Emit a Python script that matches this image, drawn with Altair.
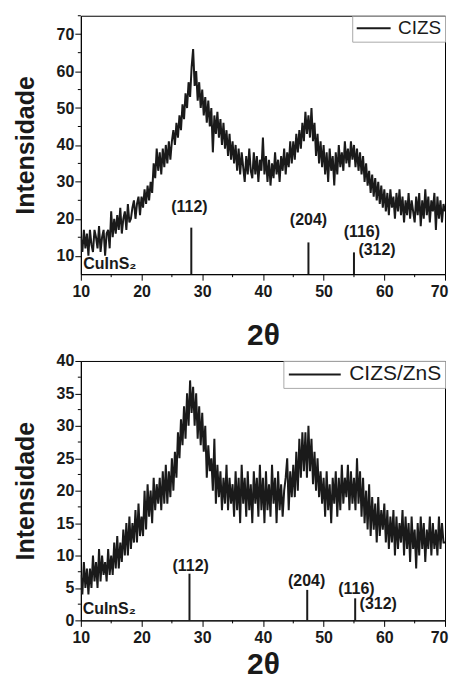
import altair as alt
import pandas as pd

# 2-theta sampling grid (degrees), 0.25 deg steps from 10 to 70
theta = [10 + 0.25 * i for i in range(241)]

# CIZS intensities (rows of 5 degrees)
cizs = (
    [15,11,17,12,16,10,17,13,11,17,15,12,18,11,15,17,10,16,17,12] +
    [22,15,20,16,21,17,23,16,20,22,17,24,19,20,23,25,20,24,26,21] +
    [26,23,28,24,29,25,30,27,35,31,39,33,38,32,39,34,40,35,41,36] +
    [41,44,40,46,42,48,44,51,47,54,50,57,53,61,66,56,60,52,57,50] +
    [55,48,53,46,52,45,50,38,48,43,49,42,47,40,46,39,44,37,43,36] +
    [41,35,40,33,39,32,38,34,30,37,32,39,33,31,38,32,37,30,36,33] +
    [42,32,37,30,36,29,35,31,38,32,36,30,37,33,39,32,38,34,41,35] +
    [41,36,43,38,44,39,46,41,49,43,48,42,50,41,46,37,43,35,41,34] +
    [40,32,38,30,39,33,37,29,38,32,40,34,38,33,41,35,39,34,41,36] +
    [40,34,39,33,38,32,37,30,35,29,33,27,32,26,31,25,30,24,29,23] +
    [28,22,27,21,28,23,26,20,27,22,28,21,26,19,25,21,27,20,25,22] +
    [19,26,21,27,18,25,20,28,21,26,19,25,22,27,17,26,20,25,19,24] +
    [22]
)

# CIZS/ZnS intensities
cizs_zns = (
    [7,4,9,5,8,4,8,5,10,6,9,5,11,6,10,7,9,6,11,7] +
    [10,7,12,8,13,8,12,9,14,10,15,10,16,11,15,12,17,12,18,13] +
    [16,13,20,14,21,16,20,15,22,17,21,18,22,17,23,18,24,18,23,19] +
    [25,20,26,22,29,25,31,27,33,28,35,30,37,32,36,30,35,28,33,27] +
    [32,26,30,22,27,23,25,20,28,18,24,19,23,17,22,18,24,17,22,18] +
    [21,16,23,17,22,15,24,18,22,16,23,17,21,15,23,18,22,16,24,17] +
    [22,15,23,17,21,16,24,18,22,15,23,17,21,16,20,22,25,17,23,19] +
    [24,19,26,20,28,22,29,23,29,22,30,23,28,21,26,20,25,19,23,18] +
    [22,16,23,17,21,15,22,18,23,16,22,17,24,18,22,19,24,17,23,18] +
    [22,17,25,18,23,16,22,15,20,14,21,13,19,14,18,12,19,13,17,14] +
    [18,12,17,11,16,12,17,10,16,11,15,12,17,10,16,11,15,9,16,11] +
    [14,8,15,10,16,11,15,9,14,11,16,10,15,11,14,10,16,11,15,12] +
    [12]
)

# CuInS2 reference reflections
ref_pos_top = [28.2, 47.5, 55.0]
ref_h_top = [17.6, 13.6, 10.9]
ref_pos_bot = [27.9, 47.3, 55.2]
ref_h_bot = [7.2, 4.7, 3.4]

lab_text = ["(112)", "(204)", "(116)", "(312)", "CuInS₂"]
lab_x_top = [27.9, 47.5, 56.3, 58.8, 10.4]
lab_y_top = [23.2, 19.7, 16.5, 11.6, 7.8]
lab_x_bot = [28.1, 47.2, 55.4, 59.0, 10.3]
lab_y_bot = [8.4, 6.0, 4.9, 2.6, 1.8]

x_major = [10, 20, 30, 40, 50, 60, 70]
x_minor = [15, 25, 35, 45, 55, 65]

FONT = "Liberation Sans"
INK = "#1a1a1a"
W = 365


def panel(series_name, values, ydom, ymajor, yminor, rpos, rh, lx, ly, h,
          sym_path, lab_off, leg_font, xtp):
    df = pd.DataFrame({"t": theta, "v": values, "s": series_name})
    xs = alt.Scale(domain=[10, 70], nice=False, zero=False)
    ys = alt.Scale(domain=ydom, nice=False, zero=False)
    xax = alt.Axis(values=x_major, title="2θ", format="d", titleFontSize=30,
                   titlePadding=xtp, labelPadding=3, labelFlush=False,
                   labelOffset={"condition": {"test": "datum.value == 70", "value": -6},
                                "value": 0})
    yax = alt.Axis(values=ymajor, title="Intensidade", format="d", titleFontSize=25,
                   titlePadding=18, labelPadding=1, labelFlush=False)
    line = alt.Chart(df).mark_line(strokeWidth=2.0, clip=True).encode(
        x=alt.X("t:Q", scale=xs, axis=xax),
        y=alt.Y("v:Q", scale=ys, axis=yax),
        color=alt.Color("s:N", scale=alt.Scale(range=[INK]),
                        legend=alt.Legend(title=None, orient="top-right", offset=0,
                                          strokeColor="#aaa", padding=3,
                                          labelFontSize=leg_font, labelFont=FONT,
                                          labelColor=INK, symbolSize=256,
                                          symbolStrokeWidth=2, symbolType=sym_path,
                                          symbolStrokeColor=INK,
                                          symbolFillColor="transparent",
                                          labelOffset=lab_off)),
    )
    rdf = pd.DataFrame({"t": rpos, "h": rh})
    rules = alt.Chart(rdf).mark_rule(strokeWidth=2, color=INK).encode(
        x=alt.X("t:Q", scale=xs, axis=xax), y=alt.Y("h:Q", scale=ys, axis=yax),
        y2=alt.datum(ydom[0]))
    ldf = pd.DataFrame({"t": lx[:4], "y": ly[:4], "txt": lab_text[:4]})
    labels = alt.Chart(ldf).mark_text(font=FONT, fontSize=16, fontWeight="bold",
                                      color=INK).encode(
        x=alt.X("t:Q", scale=xs, axis=xax), y=alt.Y("y:Q", scale=ys, axis=yax),
        text="txt:N")
    cdf = pd.DataFrame({"t": lx[4:], "y": ly[4:], "txt": lab_text[4:]})
    culab = alt.Chart(cdf).mark_text(font=FONT, fontSize=16, fontWeight="bold",
                                     color=INK, align="left").encode(
        x=alt.X("t:Q", scale=xs, axis=xax), y=alt.Y("y:Q", scale=ys, axis=yax),
        text="txt:N")
    ymin = alt.Chart(pd.DataFrame({"m": yminor})).mark_rule(color="black").encode(
        y=alt.Y("m:Q", scale=ys, axis=yax), x=alt.value(-3), x2=alt.value(0))
    xmin = alt.Chart(pd.DataFrame({"m": x_minor})).mark_rule(color="black").encode(
        x=alt.X("m:Q", scale=xs, axis=xax), y=alt.value(h), y2=alt.value(h + 3))
    return alt.layer(line, rules, labels, culab, ymin, xmin).properties(width=W, height=h)


top = panel("CIZS", cizs, [5, 75], [10, 20, 30, 40, 50, 60, 70],
            [15, 25, 35, 45, 55, 65, 75], ref_pos_top, ref_h_top,
            lab_x_top, lab_y_top, 259, "M-1,0H3.25", 24, 19, 22)
bot = panel("CIZS/ZnS", cizs_zns, [0, 40], [0, 5, 10, 15, 20, 25, 30, 35, 40],
            [2.5, 7.5, 12.5, 17.5, 22.5, 27.5, 32.5, 37.5], ref_pos_bot, ref_h_bot,
            lab_x_bot, lab_y_bot, 260, "M-1,0H5.5", 42, 21, 4)

chart = alt.vconcat(top, bot, spacing=0).resolve_scale(color="independent").resolve_legend(
    color="independent"
).properties(
    padding={"left": 4, "top": 6, "right": 0, "bottom": 0}, background="white"
).configure_view(stroke="black", strokeWidth=1).configure_axis(
    grid=False, domainColor="black", tickColor="black", tickSize=6,
    labelFont=FONT, labelFontWeight="bold", labelFontSize=16, labelColor=INK,
    titleFont=FONT, titleFontWeight="bold", titleColor=INK,
)

chart.save("out.html", embed_options={"renderer": "svg", "actions": False})
